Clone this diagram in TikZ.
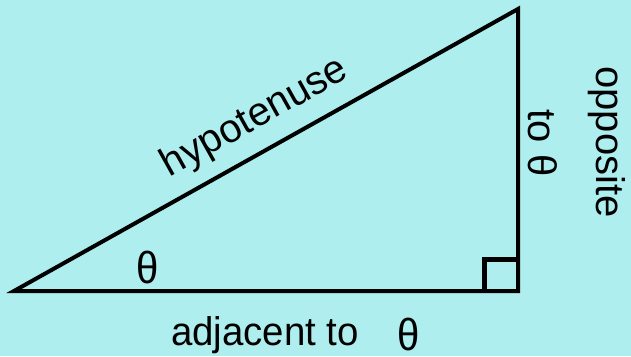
\documentclass[tikz,border=0pt]{standalone}
\usepackage{fontspec}
\setmainfont{Liberation Sans}
\definecolor{bgcyan}{HTML}{AEEEEE}
\begin{document}
\begin{tikzpicture}[x=1pt,y=-1pt,
  edge/.style={line width=4pt,line join=miter},
  lbl/.style={inner sep=0pt,font=\fontsize{40}{44}\selectfont},
  thlbl/.style={inner sep=0pt,font=\fontsize{40}{44}\selectfont,yscale=1.12}]
\fill[bgcyan] (0,0) rectangle (631,356);
\useasboundingbox (0,0) rectangle (631,356);
\coordinate (A) at (14,291);
\coordinate (B) at (518,291);
\coordinate (C) at (518,9);
\draw[edge] (A) -- (B) -- (C) -- cycle;
\draw[line width=5pt] (484.5,291) -- (484.5,259.5) -- (516,259.5);
\node[lbl,rotate=29.2] (hyp) at (255,118) {hypotenuse};
\node[thlbl] (th) at (148,267) {θ};
\node[lbl,anchor=base west,xscale=0.96] (adj) at (171,345) {adjacent to};
\node[thlbl] (th2) at (409,334) {θ};
\node[lbl,rotate=-90] (opp) at (607,142) {opposite};
\node[lbl,rotate=-90] (to) at (543,143) {to θ};
\end{tikzpicture}
\end{document}
